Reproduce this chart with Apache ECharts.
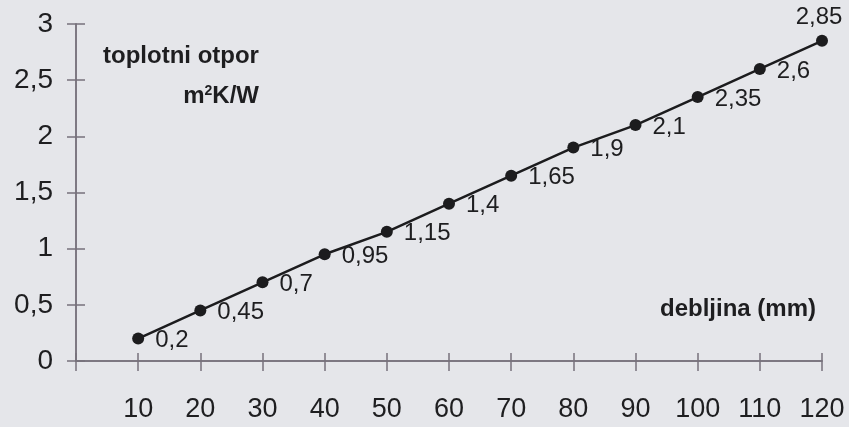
<!DOCTYPE html>
<html>
<head>
<meta charset="utf-8">
<script src="https://cdn.jsdelivr.net/npm/echarts@6/dist/echarts.min.js"></script>
<style>
html,body{margin:0;padding:0;background:#e5e6ea;}
#c{width:849px;height:427px;}
</style>
</head>
<body>
<div id="c"></div>
<script>
var thickness = [10, 20, 30, 40, 50, 60, 70, 80, 90, 100, 110, 120];
var resistance = [0.2, 0.45, 0.7, 0.95, 1.15, 1.4, 1.65, 1.9, 2.1, 2.35, 2.6, 2.85];
var yTitle1 = 'toplotni otpor';
var xTitle = 'debljina (mm)';

var chart = echarts.init(document.getElementById('c'));
var font = 'Liberation Sans, Arial, sans-serif';
var axisColor = '#77727c';
var textColor = '#1e1e20';

function comma(v){ return String(v).replace('.', ','); }

var pts = thickness.map(function(x, i){
  var last = i === thickness.length - 1;
  return {
    value: [x, resistance[i]],
    label: last ? {position: 'top', distance: 5, offset: [-3, 0]} : {position: 'right', distance: 11, offset: [0, 2]}
  };
});

var baseX = {type: 'value', min: 0, max: 120, interval: 10, splitLine: {show: false},
  axisLine: {show: true, lineStyle: {color: axisColor, width: 1.5}}};
var baseY = {type: 'value', min: 0, max: 3, interval: 0.5, splitLine: {show: false},
  axisLine: {show: true, lineStyle: {color: axisColor, width: 1.5}}};

chart.setOption({
  backgroundColor: '#e5e6ea',
  animation: false,
  grid: {left: 76, right: 27, top: 24, bottom: 66, containLabel: false},
  xAxis: [
    Object.assign({}, baseX, {
      axisTick: {show: true, inside: false, length: 10, lineStyle: {color: axisColor, width: 1.5}},
      axisLabel: {show: true, margin: 35, fontSize: 27, fontFamily: font, color: textColor,
        formatter: function(v){ return v === 0 ? '' : String(v); }}
    }),
    Object.assign({}, baseX, {
      position: 'bottom',
      axisTick: {show: true, inside: true, length: 8, lineStyle: {color: axisColor, width: 1.5}},
      axisLabel: {show: false}
    })
  ],
  yAxis: [
    Object.assign({}, baseY, {
      axisTick: {show: true, inside: false, length: 9, lineStyle: {color: axisColor, width: 1.5}},
      axisLabel: {show: true, margin: 23, fontSize: 28, fontFamily: font, color: textColor,
        formatter: function(v){ return comma(v); }}
    }),
    Object.assign({}, baseY, {
      position: 'left',
      axisTick: {show: true, inside: true, length: 9, lineStyle: {color: axisColor, width: 1.5}},
      axisLabel: {show: false}
    })
  ],
  series: [{
    type: 'line',
    data: pts,
    symbol: 'circle',
    symbolSize: 12,
    itemStyle: {color: '#1c1c1e'},
    lineStyle: {color: '#1c1c1e', width: 2.5},
    label: {show: true, fontSize: 24, fontFamily: font, color: textColor,
      formatter: function(p){ return comma(p.value[1]); }}
  }],
  graphic: [
    {type: 'text', left: 103, top: 44, style: {text: yTitle1, font: 'bold 24px ' + font, fill: textColor}},
    {type: 'text', right: 849 - 259, top: 84, style: {
      text: '{a|m}{s|2}{a|K/W}', fill: textColor,
      rich: {a: {fontSize: 24, fontWeight: 'bold', fontFamily: font, fill: textColor},
             s: {fontSize: 14, fontWeight: 'bold', fontFamily: font, fill: textColor, verticalAlign: 'top', padding: [0, 0, 10, 0]}}
    }},
    {type: 'text', right: 849 - 816, top: 297, style: {text: xTitle, font: 'bold 24px ' + font, fill: textColor}}
  ]
});
</script>
</body>
</html>
